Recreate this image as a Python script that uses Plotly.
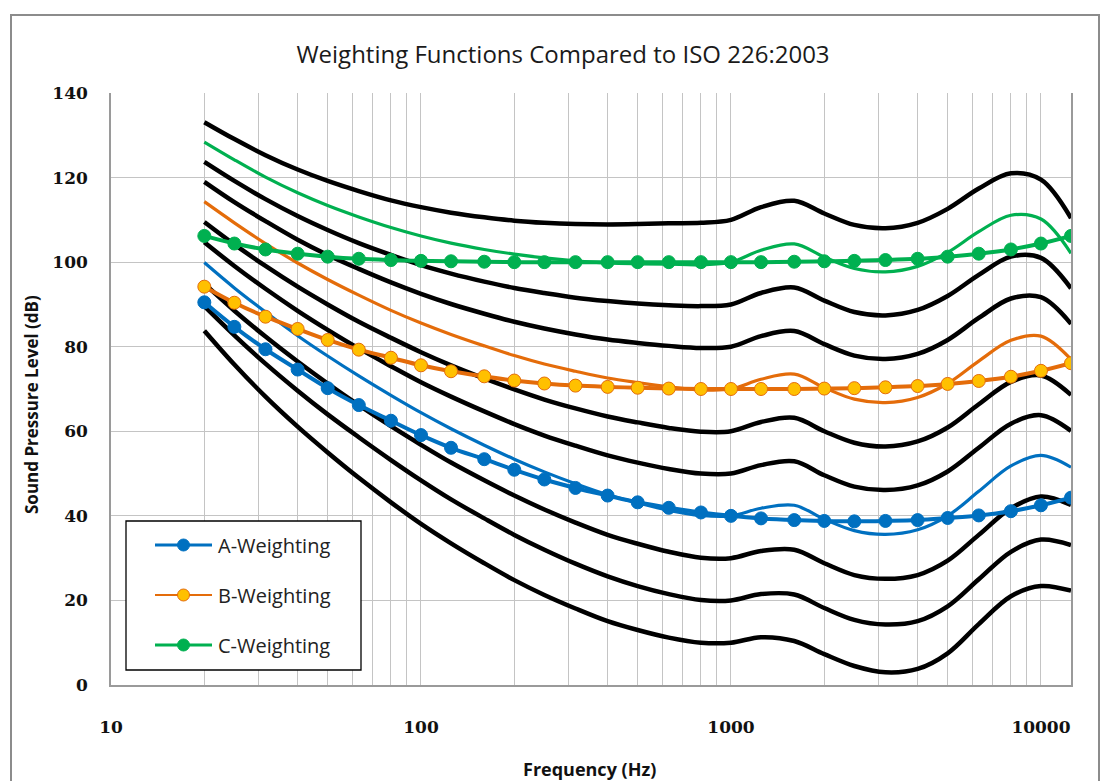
import plotly.graph_objects as go

# Third-octave band centre frequencies (Hz)
freqs = [20, 25, 31.5, 40, 50, 63, 80, 100, 125, 160, 200, 250, 315, 400, 500,
         630, 800, 1000, 1250, 1600, 2000, 2500, 3150, 4000, 5000, 6300, 8000,
         10000, 12500]

# ISO 226:2003 equal-loudness contours, sound pressure level (dB) per band
phon10 = [83.8, 75.8, 68.2, 61.1, 55.0, 49.0, 43.2, 38.1, 33.5, 28.8, 24.8, 21.3, 18.1, 15.1, 13.0,
          11.2, 10.0, 10.0, 11.3, 10.4, 7.3, 4.5, 3.0, 3.8, 7.5, 14.4, 21.0, 23.4, 22.3]
phon20 = [89.6, 82.7, 76.0, 69.6, 64.0, 58.6, 53.2, 48.4, 43.9, 39.4, 35.5, 32.0, 28.7, 25.7, 23.4,
          21.5, 20.1, 20.0, 21.5, 21.4, 18.2, 15.4, 14.3, 15.1, 18.6, 25.0, 31.5, 34.4, 33.1]
phon30 = [94.9, 88.5, 82.4, 76.5, 71.3, 66.2, 61.2, 56.8, 52.6, 48.4, 44.8, 41.5, 38.4, 35.5, 33.4,
          31.5, 30.1, 30.0, 31.7, 32.0, 28.8, 26.0, 25.1, 26.0, 29.4, 35.5, 41.8, 44.6, 42.6]
phon40 = [99.9, 93.9, 88.2, 82.6, 77.8, 73.1, 68.5, 64.4, 60.6, 56.7, 53.4, 50.4, 47.6, 45.0, 43.1,
          41.3, 40.1, 40.0, 41.8, 42.5, 39.2, 36.5, 35.6, 36.7, 40.0, 45.8, 51.8, 54.3, 51.5]
phon50 = [104.7, 99.1, 93.7, 88.5, 84.0, 79.6, 75.4, 71.6, 68.2, 64.7, 61.7, 59.0, 56.6, 54.3, 52.6,
          51.1, 50.0, 50.0, 52.0, 52.9, 49.6, 46.9, 46.1, 47.2, 50.5, 56.1, 61.8, 63.8, 60.1]
phon60 = [109.5, 104.2, 99.1, 94.2, 90.0, 85.9, 82.1, 78.7, 75.6, 72.5, 69.9, 67.5, 65.4, 63.5, 62.1,
          60.8, 59.9, 60.0, 62.2, 63.2, 60.0, 57.3, 56.4, 57.6, 60.9, 66.4, 71.7, 73.2, 68.6]
phon70 = [114.3, 109.3, 104.4, 99.8, 95.9, 92.2, 88.6, 85.6, 82.9, 80.2, 77.9, 75.9, 74.2, 72.6, 71.5,
          70.5, 69.8, 70.0, 72.3, 73.5, 70.3, 67.6, 66.8, 68.0, 71.3, 76.6, 81.5, 82.5, 77.0]
phon80 = [119.0, 114.2, 109.7, 105.3, 101.7, 98.4, 95.2, 92.5, 90.1, 87.8, 85.9, 84.3, 82.9, 81.7, 80.9,
          80.2, 79.7, 80.0, 82.5, 83.7, 80.6, 77.9, 77.1, 78.3, 81.6, 86.8, 91.4, 91.7, 85.4]
phon90 = [123.7, 119.2, 114.9, 110.9, 107.6, 104.5, 101.7, 99.3, 97.3, 95.4, 93.9, 92.7, 91.6, 90.8, 90.2,
          89.8, 89.6, 90.0, 92.7, 94.0, 90.9, 88.2, 87.4, 88.7, 92.0, 97.0, 101.3, 101.0, 93.8]
phon100 = [128.4, 124.2, 120.1, 116.4, 113.4, 110.7, 108.2, 106.2, 104.5, 103.0, 101.9, 101.0, 100.3, 99.8, 99.6,
           99.5, 99.4, 100.0, 102.8, 104.3, 101.2, 98.5, 97.7, 99.0, 102.3, 107.2, 111.1, 110.2, 102.1]
phon110 = [133.1, 129.1, 125.3, 121.9, 119.2, 116.8, 114.6, 113.0, 111.7, 110.6, 109.8, 109.3, 109.0, 108.9, 109.0,
           109.2, 109.3, 110.0, 113.0, 114.5, 111.5, 108.8, 108.0, 109.3, 112.6, 117.4, 121.0, 119.5, 110.4]

# Inverted weighting curves, referenced to 40, 70 and 100 dB at 1 kHz
a_weighting = [90.5, 84.7, 79.4, 74.6, 70.2, 66.2, 62.5, 59.1, 56.1, 53.4, 50.9, 48.6, 46.6, 44.8, 43.2,
               41.9, 40.8, 40.0, 39.4, 39.0, 38.8, 38.7, 38.8, 39.0, 39.5, 40.1, 41.1, 42.5, 44.3]
b_weighting = [94.2, 90.4, 87.1, 84.2, 81.6, 79.3, 77.4, 75.6, 74.2, 73.0, 72.0, 71.3, 70.8, 70.5, 70.3,
               70.1, 70.0, 70.0, 70.0, 70.0, 70.1, 70.2, 70.4, 70.7, 71.2, 71.9, 72.9, 74.3, 76.1]
c_weighting = [106.2, 104.4, 103.0, 102.0, 101.3, 100.8, 100.5, 100.3, 100.2, 100.1, 100.0, 100.0, 100.0, 100.0, 100.0,
               100.0, 100.0, 100.0, 100.0, 100.1, 100.2, 100.3, 100.5, 100.8, 101.3, 102.0, 103.0, 104.4, 106.2]

x_tick_values = [10, 100, 1000, 10000]
x_tick_labels = ["10", "100", "1000", "10000"]
legend_names = ["A-Weighting", "B-Weighting", "C-Weighting"]

BLUE = "#0070C0"
ORANGE = "#E46C0A"
GOLD = "#FFC000"
GREEN = "#00B050"
GRID = "#C4C4C4"
SANS = "Open Sans"
SERIF = "DejaVu Serif"

W, H = 1103, 781
L, R, T, B = 111, 32, 93, 96
PW, PH = W - L - R, H - T - B


def px(x):
    return (x - L) / PW


def py(y):
    return (H - B - y) / PH


fig = go.Figure()

black_contours = [phon10, phon20, phon30, phon50, phon60, phon80, phon90, phon110]
for levels in black_contours:
    fig.add_trace(go.Scatter(x=freqs, y=levels, mode="lines",
                             line=dict(color="black", width=4.5, shape="spline", smoothing=1.0),
                             showlegend=False, hoverinfo="skip"))

for levels, colour in [(phon40, BLUE), (phon70, ORANGE), (phon100, GREEN)]:
    fig.add_trace(go.Scatter(x=freqs, y=levels, mode="lines",
                             line=dict(color=colour, width=3.2, shape="spline", smoothing=1.0),
                             showlegend=False, hoverinfo="skip"))

weighting_styles = [
    (a_weighting, BLUE, BLUE, 3.0),
    (b_weighting, ORANGE, GOLD, 2.0),
    (c_weighting, GREEN, GREEN, 3.0),
]
for (levels, line_col, fill_col, _), name in zip(weighting_styles, legend_names):
    fig.add_trace(go.Scatter(x=freqs, y=levels, mode="lines+markers", name=name,
                             line=dict(color=line_col, width=4, shape="spline", smoothing=1.0),
                             marker=dict(size=13, color=fill_col, line=dict(color=line_col, width=1)),
                             showlegend=False))

# Legend box drawn by hand: swatch line + round marker + label per series
legend_rows = [545, 595, 645]
marker_r = 6.0
shapes = [
    dict(type="rect", xref="paper", yref="paper",
         x0=px(11), x1=px(1099), y0=py(800), y1=py(15),
         line=dict(color="#8c8c8c", width=2), fillcolor="rgba(0,0,0,0)", layer="below"),
    dict(type="rect", xref="paper", yref="paper",
         x0=px(126), x1=px(361), y0=py(670), y1=py(521),
         line=dict(color="black", width=1.3), fillcolor="white", layer="above"),
]
annotations = []
for row_y, (_, line_col, fill_col, lw), name in zip(legend_rows, weighting_styles, legend_names):
    shapes.append(dict(type="line", xref="paper", yref="paper",
                       x0=px(155), x1=px(212), y0=py(row_y), y1=py(row_y),
                       line=dict(color=line_col, width=lw), layer="above"))
    shapes.append(dict(type="circle", xref="paper", yref="paper",
                       x0=px(183.5 - marker_r), x1=px(183.5 + marker_r),
                       y0=py(row_y + marker_r), y1=py(row_y - marker_r),
                       fillcolor=fill_col, line=dict(color=line_col, width=1), layer="above"))
    annotations.append(dict(text=name, x=px(216), y=py(row_y), xref="paper", yref="paper",
                            showarrow=False, xanchor="left", yanchor="middle",
                            font=dict(family=SANS, size=20, color="#222222")))

annotations += [
    dict(text="<b>Frequency (Hz)</b>", x=px(589), y=py(769), xref="paper", yref="paper",
         showarrow=False, xanchor="center", yanchor="middle",
         font=dict(family=SANS, size=18, color="#111111")),
    dict(text="<b>Sound Pressure Level (dB)</b>", x=px(32), y=py(405), xref="paper", yref="paper",
         showarrow=False, xanchor="center", yanchor="middle", textangle=-90,
         font=dict(family=SANS, size=17, color="#111111")),
]

fig.update_layout(
    width=W, height=H,
    margin=dict(l=L, r=R, t=T, b=B),
    paper_bgcolor="white", plot_bgcolor="white",
    showlegend=False,
    title=dict(text="Weighting Functions Compared to ISO 226:2003",
               x=563 / W, xref="container", xanchor="center",
               y=1 - 55 / H, yref="container", yanchor="middle",
               font=dict(family=SANS, size=24, color="#1a1a1a")),
    xaxis=dict(type="log", range=[1, 4.0969],
               tickvals=x_tick_values, ticktext=x_tick_labels,
               showgrid=True, gridcolor=GRID, gridwidth=1.3,
               minor=dict(dtick="D1", showgrid=True, gridcolor=GRID, gridwidth=1.3, ticks=""),
               showline=True, linecolor="#9a9a9a", linewidth=1.5,
               ticks="", ticklabelstandoff=26, zeroline=False,
               tickfont=dict(family=SERIF, size=17, color="#111111", weight="bold")),
    yaxis=dict(range=[0, 140], dtick=20,
               showgrid=True, gridcolor=GRID, gridwidth=1.3,
               showline=True, linecolor="#9a9a9a", linewidth=1.5, mirror=True,
               ticks="", ticklabelstandoff=18, zeroline=False,
               tickfont=dict(family=SERIF, size=17, color="#111111", weight="bold")),
    annotations=annotations,
    shapes=shapes,
)

fig.write_html("out.html")
